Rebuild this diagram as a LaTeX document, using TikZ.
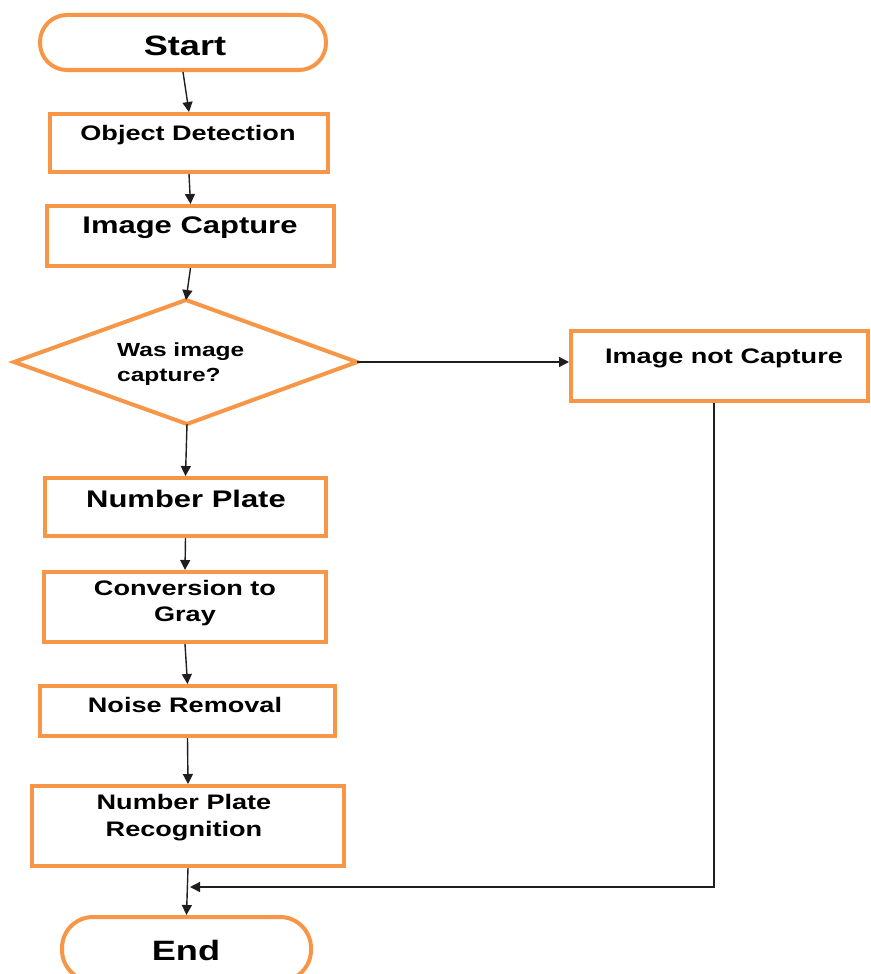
\documentclass[tikz,border=0pt]{standalone}
\usepackage{fontspec}
\newfontfamily\lbl[FakeStretch=1.29]{Liberation Sans}
\usetikzlibrary{arrows.meta}
\definecolor{flow}{HTML}{F79646}
\definecolor{wire}{HTML}{1E1E1E}
\tikzset{
  box/.style={draw=flow, line width=4pt, fill=white, inner sep=0pt},
  term/.style={box, rounded corners=27pt},
  txt/.style={font=\lbl\bfseries, text=black, inner sep=0pt, align=center},
  arr/.style={draw=wire, line width=1.4pt, -{Triangle[length=10pt,width=10pt]}},
}
\begin{document}
\begin{tikzpicture}[x=1pt,y=-1pt]
\useasboundingbox (0,0) rectangle (870,974);

% terminals and process boxes
\node[term, minimum width=286pt, minimum height=55pt] (start) at (183,42.5) {};
\node[txt, font=\lbl\bfseries\fontsize{28}{32}\selectfont] (startT) at (185,46) {Start};

\node[box, minimum width=278pt, minimum height=58pt] (od) at (189,143) {};
\node[txt, font=\lbl\bfseries\fontsize{21}{25}\selectfont] (odT) at (188,135) {Object Detection};

\node[box, minimum width=287pt, minimum height=60pt] (ic) at (190.5,236) {};
\node[txt, font=\lbl\bfseries\fontsize{24}{28}\selectfont] (icT) at (190,228) {Image Capture};

% decision
\coordinate (dtop) at (186,300);
\coordinate (dleft) at (14,362);
\coordinate (dright) at (357,362);
\coordinate (dbot) at (187,424);
\draw[draw=flow, line width=4pt, line join=miter, fill=white] (dtop) -- (dright) -- (dbot) -- (dleft) -- cycle;
\node[txt, align=left, anchor=west, font=\lbl\bfseries\fontsize{19}{25}\selectfont] (dT) at (117,364) {Was image\\capture?};

\node[box, minimum width=297pt, minimum height=70pt] (inc) at (719.5,366) {};
\node[txt, font=\lbl\bfseries\fontsize{21}{25}\selectfont] (incT) at (724,358) {Image not Capture};

\node[box, minimum width=281pt, minimum height=58pt] (np) at (185.5,507) {};
\node[txt, font=\lbl\bfseries\fontsize{24}{28}\selectfont] (npT) at (186,499) {Number Plate};

\node[box, minimum width=282pt, minimum height=70pt] (cg) at (185,607) {};
\node[txt, font=\lbl\bfseries\fontsize{21}{26}\selectfont] (cgT) at (185,603) {Conversion to\\Gray};

\node[box, minimum width=295pt, minimum height=50pt] (nr) at (187.5,711) {};
\node[txt, font=\lbl\bfseries\fontsize{21}{25}\selectfont] (nrT) at (185,705) {Noise Removal};

\node[box, minimum width=312pt, minimum height=80pt] (npr) at (188,826) {};
\node[txt, font=\lbl\bfseries\fontsize{21}{27}\selectfont] (nprT) at (184,817.5) {Number Plate\\Recognition};

\node[term, minimum width=249pt, minimum height=64pt, rounded corners=31pt] (end) at (186.5,949) {};
\node[txt, font=\lbl\bfseries\fontsize{28}{32}\selectfont] (endT) at (186,950) {End};

% connectors
\draw[arr] (start.south) -- (od.north);
\draw[arr] (od.south) -- (ic.north);
\draw[arr] (ic.south) -- (dtop);
\draw[arr] (dbot) -- (np.north);
\draw[arr] (np.south) -- (cg.north);
\draw[arr] (cg.south) -- (nr.north);
\draw[arr] (nr.south) -- (npr.north);
\draw[arr] (npr.south) -- (end.north);
\draw[arr] (dright) -- (dright -| inc.west);
\coordinate (merge) at (190,887);
\draw[arr] ([xshift=-5.5pt]inc.south) |- (merge);
\end{tikzpicture}
\end{document}
